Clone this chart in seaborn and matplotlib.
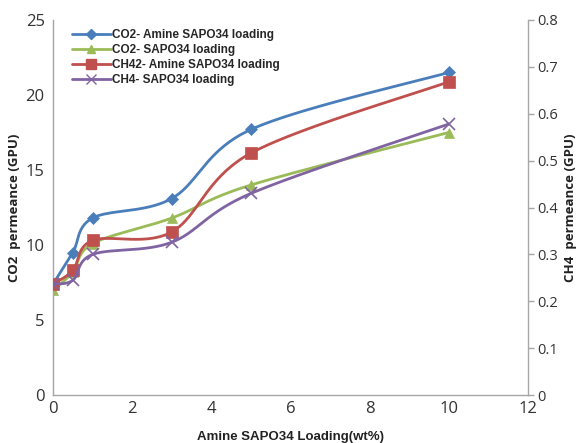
import numpy as np
import matplotlib
matplotlib.use("Agg")
import matplotlib.pyplot as plt
from matplotlib.lines import Line2D
import seaborn as sns

# ---- data ----
loading = [0, 0.5, 1, 3, 5, 10]
co2_amine = [7.4, 9.5, 11.8, 13.1, 17.7, 21.5]
co2_sapo = [7.0, 8.2, 10.1, 11.8, 14.0, 17.5]
ch4_amine = [0.237, 0.266, 0.330, 0.348, 0.516, 0.668]
ch4_sapo = [0.237, 0.245, 0.300, 0.326, 0.430, 0.578]

labels = ["CO2- Amine SAPO34 loading", "CO2- SAPO34 loading",
          "CH42- Amine SAPO34 loading", "CH4- SAPO34 loading"]
xlabel = "Amine SAPO34 Loading(wt%)"
ylabel_left = "CO2  permeance (GPU)"
ylabel_right = "CH4  permeance (GPU)"

sns.set_theme(style="white")
plt.rcParams['font.family'] = ['Open Sans', 'DejaVu Sans']

BLUE = "#4a7ebb"
GREEN = "#9bbb59"
RED = "#c0504d"
PURPLE = "#8064a2"
GREY = "#a6a6a6"


def smooth(x, y, xr, yr, n=40):
    # Excel-like smoothed line (Catmull-Rom Bezier) in normalized space
    px = np.asarray(x, float) / xr
    py = np.asarray(y, float) / yr
    pts = np.column_stack([px, py])
    out = [pts[0]]
    m = len(pts)
    for i in range(m - 1):
        p0 = pts[i - 1] if i > 0 else pts[i]
        p1 = pts[i]
        p2 = pts[i + 1]
        p3 = pts[i + 2] if i + 2 < m else pts[i + 1]
        c1 = p1 + (p2 - p0) / 6.0
        c2 = p2 - (p3 - p1) / 6.0
        t = np.linspace(0, 1, n)[1:, None]
        seg = ((1 - t) ** 3) * p1 + 3 * ((1 - t) ** 2) * t * c1 + 3 * (1 - t) * t ** 2 * c2 + t ** 3 * p2
        out.extend(seg)
    out = np.array(out)
    return out[:, 0] * xr, out[:, 1] * yr


fig, ax = plt.subplots(figsize=(5.8, 4.43), dpi=100)
fig.subplots_adjust(left=0.0914, right=0.910, top=0.955, bottom=0.108)
ax2 = ax.twinx()

series = [
    (ax, co2_amine, BLUE, "D", 6, 25),
    (ax, co2_sapo, GREEN, "^", 7, 25),
    (ax2, ch4_amine, RED, "s", 8, 0.8),
    (ax2, ch4_sapo, PURPLE, "x", 8, 0.8),
]
handles = []
for (a, ys, c, mk, ms, yr), lab in zip(series, labels):
    sx, sy = smooth(loading, ys, 12, yr)
    sns.lineplot(x=sx, y=sy, ax=a, color=c, linewidth=2.0, sort=False,
                 estimator=None, legend=False)
    a.plot(loading, ys, linestyle="none", marker=mk, markersize=ms, color=c,
           markeredgecolor=c, markeredgewidth=1.2 if mk == "x" else 0.5)
    handles.append(Line2D([0], [0], color=c, linewidth=2.0, marker=mk,
                          markersize=ms * 0.85, markeredgecolor=c))

ax.set_xlim(0, 12)
ax.set_ylim(0, 25)
ax2.set_ylim(0, 0.8)
ax.set_xticks([0, 2, 4, 6, 8, 10, 12])
ax.set_yticks([0, 5, 10, 15, 20, 25])
ax2.set_yticks([0, 0.1, 0.2, 0.3, 0.4, 0.5, 0.6, 0.7, 0.8])
ax2.set_yticklabels(["0", "0.1", "0.2", "0.3", "0.4", "0.5", "0.6", "0.7", "0.8"])

for a in (ax, ax2):
    a.spines['top'].set_visible(False)
    for s in ('left', 'right', 'bottom'):
        a.spines[s].set_color(GREY)
        a.spines[s].set_linewidth(1.0)
ax.spines['right'].set_visible(False)
ax2.spines['left'].set_visible(False)
ax2.spines['bottom'].set_visible(False)

ax.tick_params(axis='both', labelsize=12, colors="#333333", length=0, pad=6)
ax.tick_params(axis='x', pad=4)
ax2.tick_params(axis='y', labelsize=10.5, colors="#333333", length=4, width=1,
                direction='out', pad=3)
ax2.tick_params(axis='y', color=GREY)

ax.set_xlabel(xlabel, fontsize=9.5, fontweight='bold', labelpad=10,
              family=['Liberation Sans', 'DejaVu Sans'], color="#222222")
ax.set_ylabel(ylabel_left, fontsize=9.5, fontweight='bold', labelpad=3, color="#222222")
ax2.set_ylabel(ylabel_right, fontsize=9.5, fontweight='bold', labelpad=4, color="#222222")

leg = ax.legend(handles, labels, loc='upper left', bbox_to_anchor=(0.025, 0.995),
                frameon=False, handlelength=3.3, handletextpad=0.1,
                labelspacing=0.25, borderaxespad=0.2,
                prop={'family': ['Liberation Sans', 'DejaVu Sans'], 'weight': 'bold', 'size': 8.5})

fig.savefig("out.png", dpi=100)
